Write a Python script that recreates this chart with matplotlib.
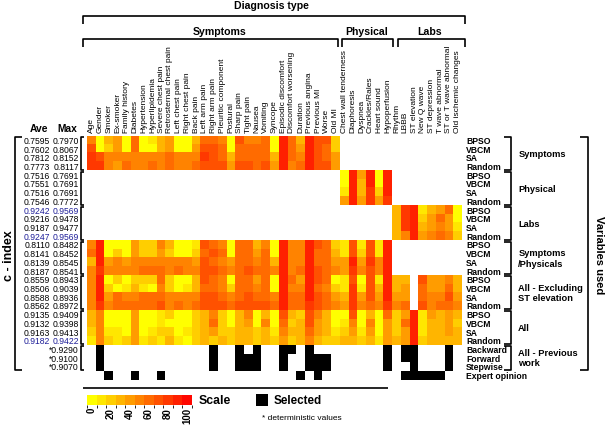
import numpy as np
import matplotlib.pyplot as plt
from matplotlib.colors import ListedColormap, BoundaryNorm
from matplotlib.patches import Rectangle

plt.rcParams['font.family'] = ['Liberation Sans', 'DejaVu Sans']

symptom_vars = ['Age', 'Gender', 'Smoker', 'Ex-smoker', 'Family history', 'Diabetes',
                'Hypertension', 'Hyperlipidemia', 'Severe chest pain',
                'Retrosternal chest pain', 'Left chest pain', 'Right chest pain',
                'Back pain', 'Left arm pain', 'Right arm pain', 'Pleuritic component',
                'Postural', 'Sharp pain', 'Tight pain', 'Nausea', 'Vomiting', 'Syncope',
                'Episodic discomfort', 'Discomfort worsening', 'Duration',
                'Previous angina', 'Previous MI', 'Worse', 'Old MI']
physical_vars = ['Chest wall tenderness', 'Diaphoresis', 'Dyspnea', 'Crackles/Rales',
                 'Heart sound', 'Hypoperfusion']
lab_vars = ['Rhythm', 'LBBB', 'ST elevation', 'New Q wave', 'ST depression',
            'T wave abnormal', 'ST or T wave abnormal', 'Old ischemic changes']
variables = symptom_vars + physical_vars + lab_vars

methods = ['BPSO', 'VBCM', 'SA', 'Random']
groups = ['Symptoms', 'Physical', 'Labs', 'Symptoms\n/Physicals',
          'All - Excluding\nST elevation', 'All']

ave = ['0.7595', '0.7602', '0.7812', '0.7773', '0.7516', '0.7551', '0.7516', '0.7546',
       '0.9242', '0.9216', '0.9187', '0.9247', '0.8110', '0.8141', '0.8139', '0.8187',
       '0.8559', '0.8506', '0.8588', '0.8562', '0.9135', '0.9132', '0.9163', '0.9182']
mx = ['0.7970', '0.8067', '0.8152', '0.8117', '0.7691', '0.7691', '0.7691', '0.7772',
      '0.9569', '0.9478', '0.9477', '0.9569', '0.8482', '0.8452', '0.8545', '0.8541',
      '0.8943', '0.9039', '0.8936', '0.8972', '0.9409', '0.9398', '0.9413', '0.9422']
best_rows = [8, 11, 23]

prev_methods = ['Backward', 'Forward', 'Stepwise']
prev_cindex = ['*0.9290', '*0.9100', '*0.9070']

# selection frequency (%) per variable, one block per variable set
sym_only = [
    [50, 0, 30, 40, 0, 60, 0, 10, 30, 40, 0, 0, 30, 60, 60, 50, 0, 70, 50, 50, 60, 0, 90, 60, 30, 90, 70, 70, 20],
    [70, 0, 20, 40, 0, 60, 0, 0, 30, 40, 0, 0, 40, 70, 70, 60, 0, 60, 60, 60, 60, 0, 90, 60, 40, 90, 70, 60, 20],
    [80, 70, 50, 50, 50, 50, 50, 50, 50, 60, 50, 50, 50, 80, 70, 60, 30, 60, 60, 60, 60, 30, 90, 60, 50, 90, 70, 60, 40],
    [80, 80, 50, 40, 60, 50, 50, 60, 50, 60, 50, 50, 60, 70, 70, 70, 40, 70, 70, 60, 70, 40, 90, 50, 60, 90, 70, 70, 40],
]
phys_only = [
    [0, 90, 40, 90, 0, 90],
    [0, 90, 30, 90, 0, 90],
    [10, 90, 30, 80, 20, 90],
    [40, 90, 40, 80, 40, 80],
]
labs_only = [
    [30, 80, 90, 10, 30, 40, 60, 0],
    [30, 80, 90, 20, 40, 60, 40, 0],
    [30, 80, 90, 30, 40, 50, 40, 10],
    [30, 50, 90, 40, 50, 60, 50, 20],
]
sym_phys = [
    [50, 90, 0, 0, 0, 40, 20, 20, 50, 30, 0, 0, 10, 70, 60, 50, 0, 60, 60, 30, 50, 0, 90, 50, 50, 90, 70, 60, 20,
     10, 70, 10, 70, 10, 90],
    [60, 90, 0, 20, 0, 40, 20, 20, 40, 20, 0, 0, 20, 60, 70, 60, 0, 60, 60, 40, 60, 0, 90, 50, 50, 90, 60, 60, 30,
     10, 70, 20, 70, 10, 90],
    [30, 90, 40, 50, 40, 50, 50, 50, 50, 50, 50, 50, 40, 70, 60, 50, 40, 60, 60, 50, 60, 30, 90, 50, 50, 90, 60, 60, 40,
     40, 90, 40, 80, 50, 90],
    [50, 80, 50, 50, 50, 50, 60, 60, 60, 50, 60, 50, 50, 70, 70, 60, 50, 60, 70, 60, 60, 50, 90, 50, 60, 90, 70, 60, 50,
     40, 80, 50, 70, 50, 90],
]
all_excl = [
    [50, 90, 0, 20, 0, 20, 20, 20, 60, 20, 0, 0, 30, 70, 60, 50, 0, 60, 60, 40, 60, 0, 90, 60, 40, 90, 70, 60, 0,
     10, 70, 0, 70, 10, 90, 30, 30, 70, 40, 40, 50, 30],
    [50, 90, 20, 0, 10, 30, 10, 0, 50, 20, 0, 10, 30, 60, 60, 50, 20, 60, 60, 50, 60, 0, 90, 50, 50, 90, 60, 50, 20,
     10, 80, 10, 70, 30, 90, 30, 40, 60, 40, 40, 60, 30],
    [50, 90, 40, 60, 50, 50, 60, 60, 60, 50, 50, 50, 50, 70, 70, 60, 50, 60, 70, 60, 60, 50, 90, 60, 60, 90, 70, 60, 40,
     30, 80, 40, 70, 40, 90, 40, 40, 60, 50, 50, 70, 40],
    [50, 80, 50, 60, 60, 60, 60, 60, 70, 50, 60, 50, 60, 70, 70, 70, 60, 70, 70, 70, 70, 60, 90, 60, 60, 80, 70, 60, 50,
     40, 80, 50, 60, 50, 80, 50, 60, 70, 50, 60, 60, 50],
]
all_vars = [
    [30, 50, 0, 0, 0, 40, 0, 0, 10, 20, 0, 0, 20, 30, 50, 20, 0, 30, 50, 0, 30, 0, 70, 30, 20, 70, 50, 30, 0,
     0, 70, 0, 30, 0, 60, 20, 40, 90, 10, 40, 30, 40, 30],
    [30, 50, 0, 0, 0, 40, 0, 0, 10, 0, 0, 0, 20, 30, 60, 20, 0, 30, 40, 0, 50, 0, 60, 20, 30, 70, 40, 30, 0,
     10, 50, 0, 50, 0, 40, 20, 60, 90, 10, 30, 30, 40, 20],
    [20, 50, 10, 10, 0, 40, 0, 10, 20, 20, 0, 10, 20, 30, 40, 20, 20, 30, 30, 20, 30, 10, 50, 30, 30, 60, 40, 30, 10,
     20, 40, 10, 40, 0, 40, 20, 40, 90, 10, 30, 30, 40, 30],
    [10, 50, 20, 10, 20, 40, 10, 20, 10, 30, 10, 0, 20, 30, 20, 30, 20, 30, 30, 20, 30, 20, 40, 20, 30, 50, 30, 20, 20,
     30, 30, 20, 30, 10, 40, 30, 40, 90, 20, 30, 30, 30, 30],
]

# variables chosen by previous work (column indices)
backward_sel = [1, 14, 17, 19, 22, 23, 25, 34, 36, 37, 41]
forward_sel = [1, 14, 17, 18, 19, 22, 25, 26, 27, 34, 36, 37, 41]
stepwise_sel = [1, 14, 17, 18, 19, 22, 25, 26, 27, 34, 37, 41]
expert_sel = [2, 5, 8, 24, 26, 36, 37, 38, 39, 40]

n_sym, n_phy, n_lab = len(symptom_vars), len(physical_vars), len(lab_vars)
ncol = len(variables)

freq = np.full((24, ncol), np.nan)
freq[0:4, :n_sym] = sym_only
freq[4:8, n_sym:n_sym + n_phy] = phys_only
freq[8:12, n_sym + n_phy:] = labs_only
freq[12:16, :n_sym + n_phy] = sym_phys
excl_cols = [i for i, v in enumerate(variables) if v != 'ST elevation']
freq[16:20, excl_cols] = all_excl
freq[20:24, :] = all_vars

sel = np.zeros((4, ncol))
for r, cols in enumerate([backward_sel, forward_sel, stepwise_sel, expert_sel]):
    sel[r, cols] = 1

colors = plt.cm.autumn_r(np.linspace(0, 0.97, 11))
cmap = ListedColormap(colors)
norm = BoundaryNorm(np.arange(-5, 106, 10), cmap.N)

fig = plt.figure(figsize=(6.06, 4.27), dpi=100)
ax = fig.add_axes([87 / 606, 1 - 381 / 427, 375 / 606, 244 / 427])
im = ax.imshow(freq, cmap=cmap, norm=norm, extent=(0, ncol, 24, 0),
               aspect='auto', interpolation='nearest')
ax.imshow(np.ma.masked_equal(sel, 0), cmap=ListedColormap(['black']),
          extent=(0, ncol, 28, 24), aspect='auto', interpolation='nearest')
ax.set_xlim(0, ncol)
ax.set_ylim(28, 0)
ax.axis('off')

lw = 1.2
kw = dict(color='black', lw=lw, clip_on=False, solid_capstyle='butt')

# column labels
for i, v in enumerate(variables):
    ax.text(i + 0.5, -0.45, v, rotation=90, ha='center', va='bottom', fontsize=6)

# top brackets
def top_bracket(x0, x1, y, d, label, lx, ly):
    ax.plot([x0, x0, x1, x1], [y + d, y, y, y + d], **kw)
    ax.text(lx, ly, label, ha='center', va='center', fontsize=7.6, fontweight='bold')

top_bracket(-0.46, 28.8, -11.1, 0.85, 'Symptoms', 15.2, -12.1)
top_bracket(29.24, 35.09, -11.1, 0.85, 'Physical', 32.1, -12.1)
top_bracket(35.67, 43.35, -11.1, 0.85, 'Labs', 39.3, -12.1)
top_bracket(-0.46, 43.35, -13.76, 0.9, 'Diagnosis type', 21.2, -15.05)

# left side: c-index values
ax.text(-5.5, -0.95, 'Ave', ha='center', va='center', fontsize=7.4, fontweight='bold')
ax.text(-2.3, -0.95, 'Max', ha='center', va='center', fontsize=7.4, fontweight='bold')
for r in range(24):
    c = '#1f1f99' if r in best_rows else 'black'
    ax.text(-4.2, r + 0.5, ave[r], ha='right', va='center', fontsize=6.2, color=c)
    ax.text(-0.9, r + 0.5, mx[r], ha='right', va='center', fontsize=6.2, color=c)
for k, s in enumerate(prev_cindex):
    ax.text(-0.9, 24.5 + k, s, ha='right', va='center', fontsize=6.2)

for g in range(7):
    y0 = 4 * g + 0.12
    y1 = 4 * g + (3.88 if g < 6 else 2.88)
    ax.plot([-0.3, -0.72, -0.72, -0.3], [y0, y0, y1, y1], **kw)

ax.plot([-7.45, -8.26, -8.26, -7.45], [0.12, 0.12, 26.9, 26.9], **kw)
ax.text(-8.95, 13.6, 'c - index', rotation=90, ha='center', va='center',
        fontsize=9, fontweight='bold')

# right side: method labels and groups
for g, name in enumerate(groups):
    for m, meth in enumerate(methods):
        ax.text(43.46, 4 * g + m + 0.5, meth, ha='left', va='center',
                fontsize=6.2, fontweight='bold')
    y0, y1 = 4 * g + 0.12, 4 * g + 3.88
    ax.plot([47.8, 48.6, 48.6, 47.8], [y0, y0, y1, y1], **kw)
    ax.text(49.45, 4 * g + 2, name, ha='left', va='center', fontsize=6.7,
            fontweight='bold', linespacing=1.15)

for k, meth in enumerate(prev_methods):
    ax.text(43.46, 24.5 + k, meth, ha='left', va='center', fontsize=6.2, fontweight='bold')
ax.text(43.46, 27.5, 'Expert opinion', ha='left', va='center', fontsize=6.2, fontweight='bold')
ax.plot([47.8, 48.6, 48.6, 47.8], [24.12, 24.12, 26.88, 26.88], **kw)
ax.text(49.45, 25.4, 'All - Previous\nwork', ha='left', va='center', fontsize=6.7,
        fontweight='bold', linespacing=1.15)

ax.plot([56.55, 57.45, 57.45, 56.55], [0.12, 0.12, 26.9, 26.9], **kw)
ax.text(58.75, 13.6, 'Variables used', rotation=270, ha='center', va='center',
        fontsize=8, fontweight='bold')

# legend area
ax.plot([-0.46, 34.5], [28.95, 28.95], **kw)
cax = fig.add_axes([87 / 606, 1 - 406 / 427, 105 / 606, 10 / 427])
cb = fig.colorbar(im, cax=cax, orientation='horizontal', ticks=np.arange(0, 101, 20))
cb.outline.set_visible(False)
cax.tick_params(length=0, labelsize=7, pad=1.5)
for t in cax.get_xticklabels():
    t.set_rotation(90)
    t.set_fontweight('bold')

ax.text(12.75, 30.3, 'Scale', ha='left', va='center', fontsize=8.8, fontweight='bold')
ax.add_patch(Rectangle((19.38, 29.6), 1.38, 1.38, facecolor='black', clip_on=False))
ax.text(21.35, 30.3, 'Selected', ha='left', va='center', fontsize=8.4, fontweight='bold')
ax.text(20.07, 32.25, '* deterministic values', ha='left', va='center', fontsize=6)

plt.savefig('out.png', dpi=100)
